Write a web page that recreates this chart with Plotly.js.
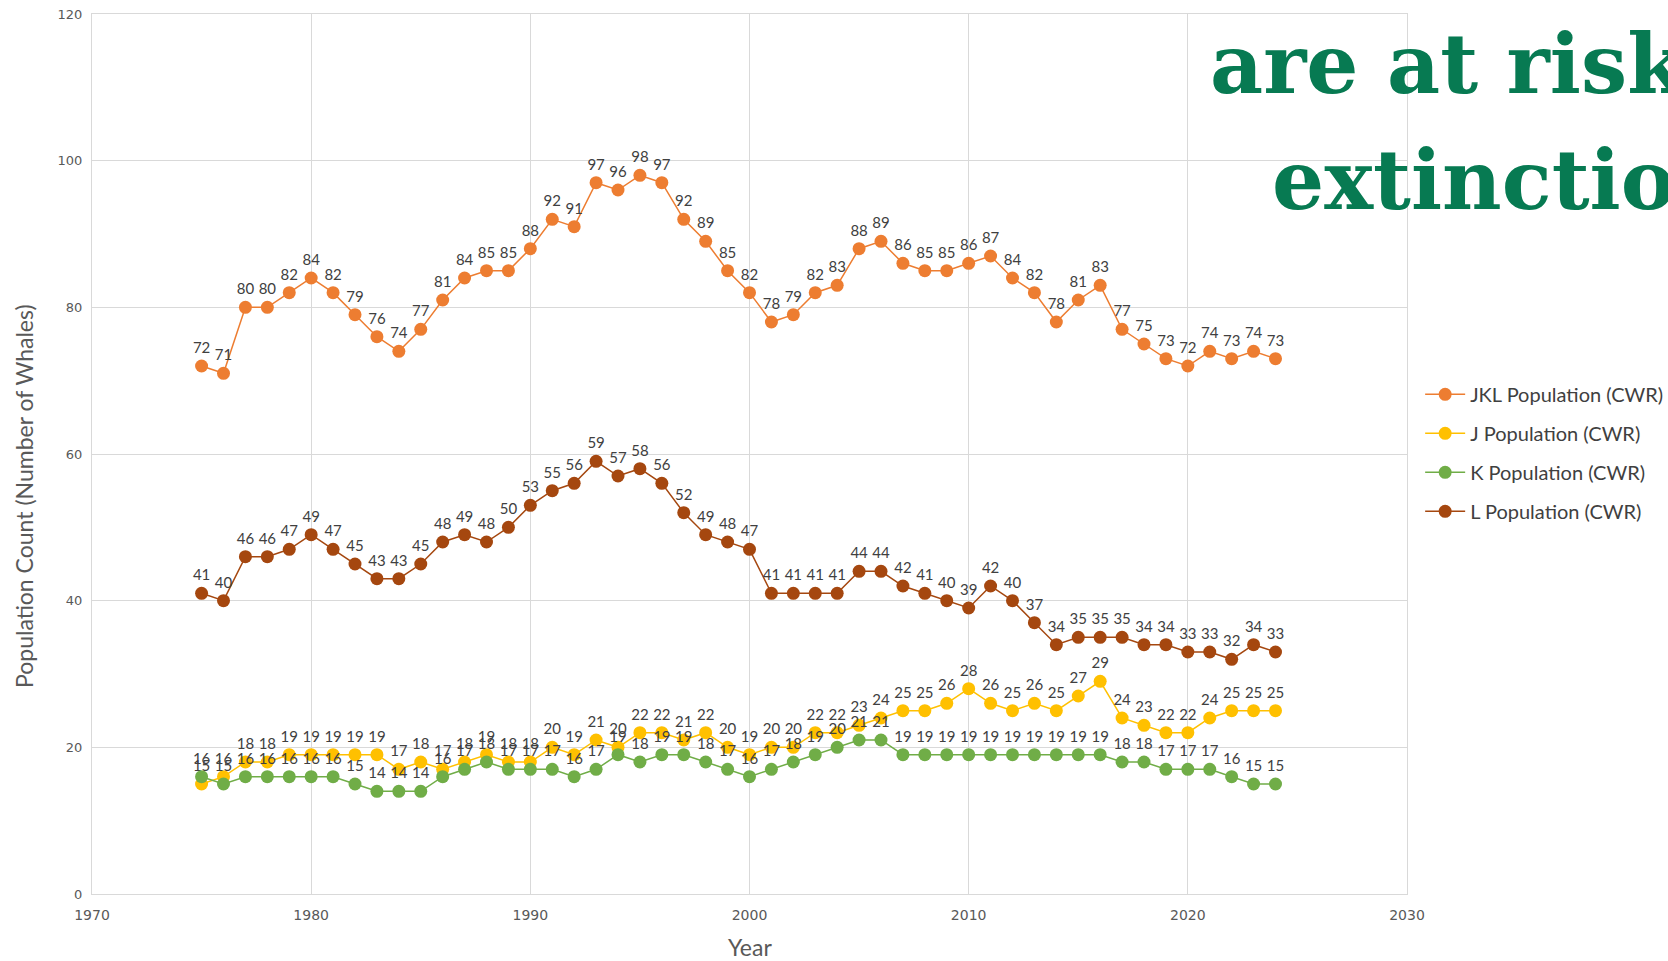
<!DOCTYPE html>
<html>
<head>
<meta charset="utf-8">
<script src="https://cdn.plot.ly/plotly-3.0.1.min.js"></script>
<style>
  html, body { margin: 0; padding: 0; background: #fff; }
  #chart { width: 1668px; height: 961px; }
</style>
</head>
<body>
<div id="chart"></div>
<script>
// years of the census, one point per year
const years = [];
for (let y = 1975; y <= 2024; y++) years.push(y);

const jklPop = [72, 71, 80, 80, 82, 84, 82, 79, 76, 74, 77, 81, 84, 85, 85, 88, 92, 91, 97, 96,
  98, 97, 92, 89, 85, 82, 78, 79, 82, 83, 88, 89, 86, 85, 85, 86, 87, 84, 82, 78,
  81, 83, 77, 75, 73, 72, 74, 73, 74, 73];
const jPop = [15, 16, 18, 18, 19, 19, 19, 19, 19, 17, 18, 17, 18, 19, 18, 18, 20, 19, 21, 20,
  22, 22, 21, 22, 20, 19, 20, 20, 22, 22, 23, 24, 25, 25, 26, 28, 26, 25, 26, 25,
  27, 29, 24, 23, 22, 22, 24, 25, 25, 25];
const kPop = [16, 15, 16, 16, 16, 16, 16, 15, 14, 14, 14, 16, 17, 18, 17, 17, 17, 16, 17, 19,
  18, 19, 19, 18, 17, 16, 17, 18, 19, 20, 21, 21, 19, 19, 19, 19, 19, 19, 19, 19,
  19, 19, 18, 18, 17, 17, 17, 16, 15, 15];
const lPop = [41, 40, 46, 46, 47, 49, 47, 45, 43, 43, 45, 48, 49, 48, 50, 53, 55, 56, 59, 57,
  58, 56, 52, 49, 48, 47, 41, 41, 41, 41, 44, 44, 42, 41, 40, 39, 42, 40, 37, 34,
  35, 35, 35, 34, 34, 33, 33, 32, 34, 33];

const seriesNames = ['JKL Population (CWR)', 'J Population (CWR)', 'K Population (CWR)', 'L Population (CWR)'];
const seriesColors = ['#ED7D31', '#FFC000', '#70AD47', '#A5470F'];
const seriesValues = [jklPop, jPop, kPop, lPop];

const labelFont = { family: 'Lato, sans-serif', size: 15, color: '#404040' };

let data = seriesValues.map((vals, i) => ({
  type: 'scatter',
  mode: 'lines+markers+text',
  name: seriesNames[i],
  legendgroup: 'g' + i,
  x: years,
  y: vals,
  text: vals.map(String),
  textposition: 'top center',
  textfont: labelFont,
  line: { color: seriesColors[i], width: 1.5 },
  marker: { color: seriesColors[i], size: 13 },
  cliponaxis: false
}));

const gridCol = '#d9d9d9';
const titleFont = { family: 'Lato, sans-serif', size: 23, color: '#595959' };

// plot area in pixels: left 92, right 1407, top 14, bottom 894
let layout = {
  width: 1668,
  height: 961,
  margin: { l: 92, r: 261, t: 14, b: 67, autoexpand: false },
  paper_bgcolor: '#ffffff',
  plot_bgcolor: '#ffffff',
  showlegend: true,
  legend: {
    x: 1.01, y: 0.59, xanchor: 'left', yanchor: 'top',
    traceorder: 'grouped', tracegroupgap: 10,
    itemwidth: 40,
    font: { family: 'Lato, sans-serif', size: 20, color: '#404040' }
  },
  xaxis: {
    range: [1970, 2030],
    dtick: 10,
    tick0: 1970,
    showgrid: true, gridcolor: gridCol, gridwidth: 1,
    showline: true, linecolor: gridCol, mirror: true,
    zeroline: false,
    ticks: '',
    ticklabelstandoff: 8,
    tickfont: { family: 'DejaVu Sans, sans-serif', size: 14, color: '#595959' }
  },
  yaxis: {
    range: [0, 120],
    dtick: 20,
    showgrid: true, gridcolor: gridCol, gridwidth: 1,
    showline: true, linecolor: gridCol, mirror: true,
    zeroline: false,
    ticks: '',
    ticklabelstandoff: 6,
    tickfont: { family: 'DejaVu Sans, sans-serif', size: 13, color: '#595959' }
  },
  annotations: [
    {
      text: 'Year', xref: 'paper', yref: 'paper',
      x: (750 - 92) / 1315, y: (894 - 947) / 880, xanchor: 'center', yanchor: 'middle',
      showarrow: false, font: titleFont
    },
    {
      text: 'Population Count (Number of Whales)', xref: 'paper', yref: 'paper',
      x: (24 - 92) / 1315, y: (894 - 496) / 880, xanchor: 'center', yanchor: 'middle',
      textangle: -90, showarrow: false, font: titleFont
    },
    {
      text: '<b>are at risk</b>', xref: 'paper', yref: 'paper',
      x: (1208 - 92) / 1315, y: (894 - 64) / 880, xanchor: 'left', yanchor: 'middle',
      showarrow: false,
      font: { family: 'DejaVu Serif, serif', size: 82, color: '#077A52' }
    },
    {
      text: '<b>extinction</b>', xref: 'paper', yref: 'paper',
      x: (1270 - 92) / 1315, y: (894 - 180) / 880, xanchor: 'left', yanchor: 'middle',
      showarrow: false,
      font: { family: 'DejaVu Serif, serif', size: 82, color: '#077A52' }
    }
  ]
};

Plotly.newPlot('chart', data, layout, { displayModeBar: false, staticPlot: true });
</script>
</body>
</html>
